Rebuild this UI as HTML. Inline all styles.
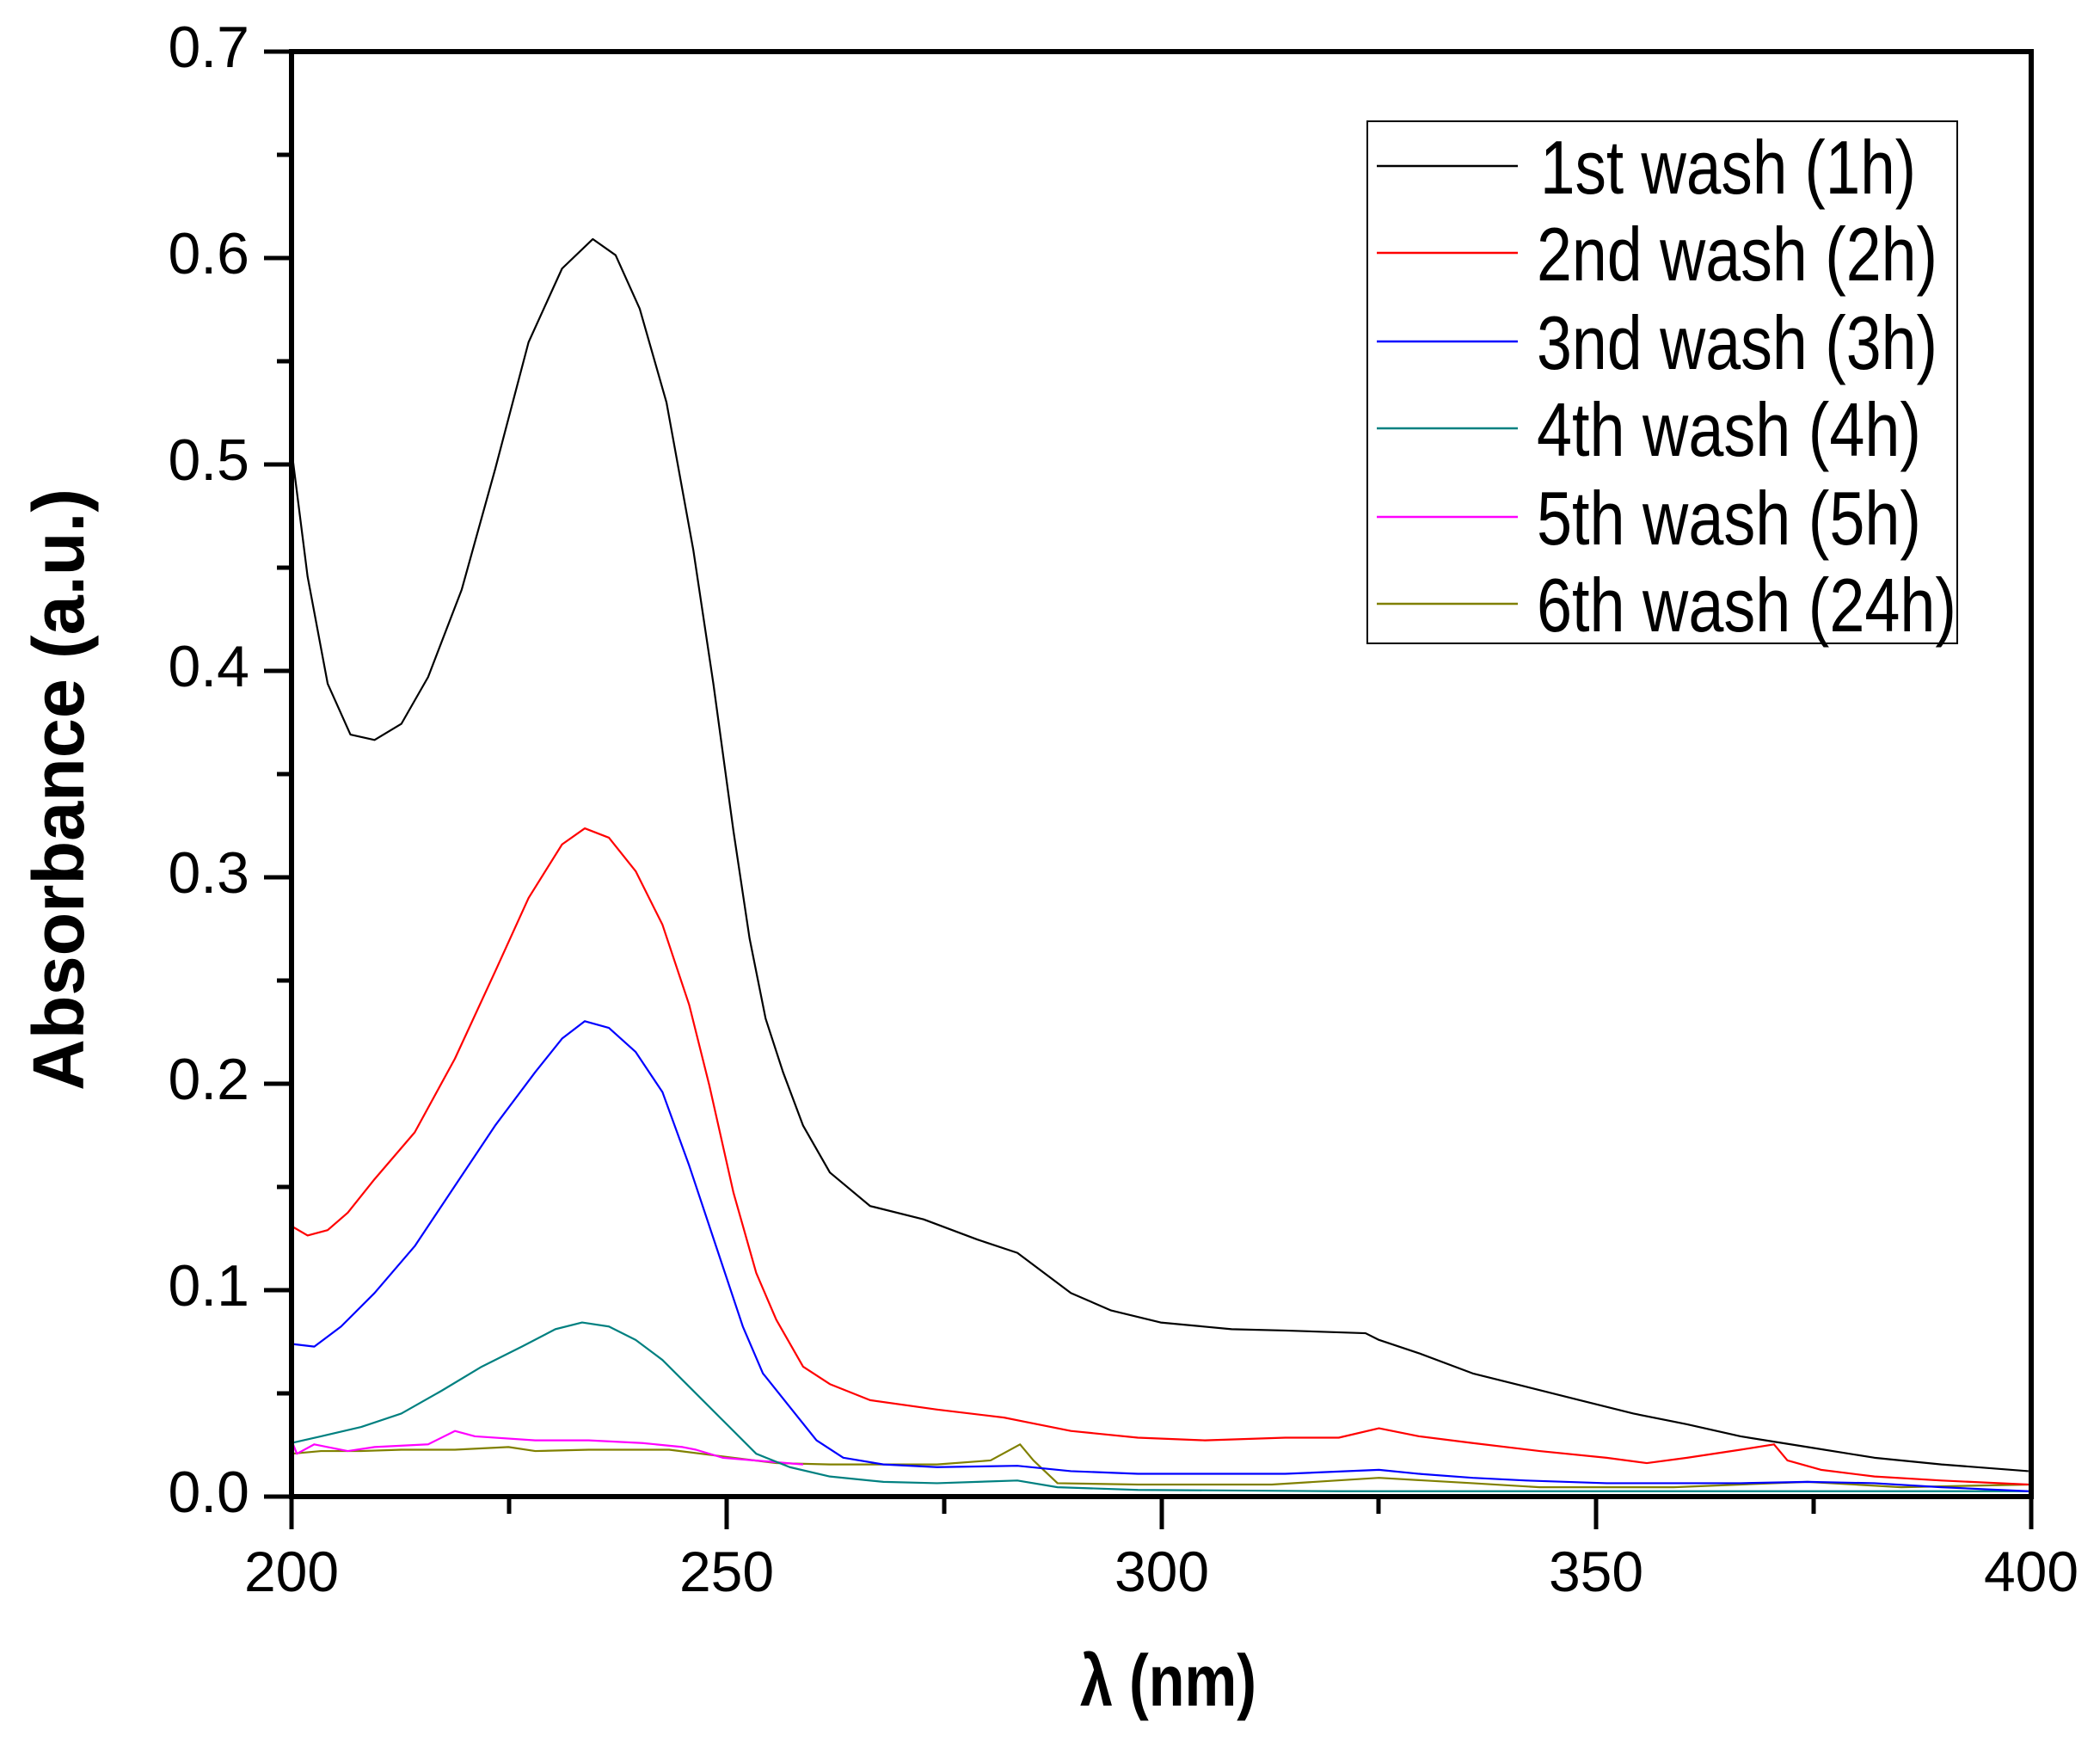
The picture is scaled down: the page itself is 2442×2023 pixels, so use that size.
<!DOCTYPE html>
<html><head><meta charset="utf-8"><style>
html,body{margin:0;padding:0;background:#fff;}
svg{display:block;}
text{font-family:"Liberation Sans",Arial,sans-serif;fill:#000;}
</style></head><body>
<svg width="2442" height="2023" viewBox="0 0 2442 2023" xmlns="http://www.w3.org/2000/svg">
<rect width="2442" height="2023" fill="#fff"/>
<g transform="translate(339,60) scale(1.5573,1.557) translate(-218,-38)" fill="none" stroke-width="2.2" vector-effect="non-scaling-stroke" stroke-linejoin="round">
<polyline vector-effect="non-scaling-stroke" stroke="#808000" points="218,1085 240,1083 270,1083 300,1082 340,1082 380,1080 400,1083 440,1082 500,1082 540,1087 580,1092 620,1093 700,1093 740,1090 762,1078 772,1090 790,1107 850,1108 950,1108 1030,1103 1100,1107 1150,1110 1250,1110 1350,1106 1420,1110 1515,1108"/>
<polyline vector-effect="non-scaling-stroke" stroke="#ff00ff" points="218,1075 222,1085 235,1078 245,1080 260,1083 280,1080 320,1078 340,1068 355,1072 400,1075 440,1075 480,1077 510,1080 520,1082 540,1088 600,1093"/>
<polyline vector-effect="non-scaling-stroke" stroke="#008080" points="218,1077 240,1072 270,1065 300,1055 330,1038 360,1020 390,1005 415,992 435,987 455,990 475,1000 495,1015 515,1035 540,1060 565,1085 590,1095 620,1102 660,1106 700,1107 760,1105 790,1110 850,1112 1000,1113 1515,1113"/>
<polyline vector-effect="non-scaling-stroke" stroke="#0000ff" points="218,1003 235,1005 255,990 280,965 310,930 340,885 370,840 400,800 420,775 437,762 455,767 475,785 495,815 515,870 535,930 555,990 570,1025 590,1050 610,1075 630,1088 660,1093 700,1095 760,1094 800,1098 850,1100 900,1100 960,1100 1030,1097 1060,1100 1100,1103 1140,1105 1200,1107 1300,1107 1350,1106 1400,1107 1450,1110 1515,1113"/>
<polyline vector-effect="non-scaling-stroke" stroke="#ff0000" points="218,915 230,922 245,918 260,905 280,880 310,845 340,790 370,725 395,670 420,630 437,618 455,625 475,650 495,690 515,750 530,810 548,890 565,950 580,985 600,1020 620,1033 650,1045 700,1052 750,1058 800,1068 850,1073 900,1075 960,1073 1000,1073 1030,1066 1060,1072 1100,1077 1150,1083 1200,1088 1230,1092 1260,1088 1300,1082 1325,1078 1335,1090 1360,1097 1400,1102 1450,1105 1515,1108"/>
<polyline vector-effect="non-scaling-stroke" stroke="#000000" points="218,335 230,430 245,510 262,548 280,552 300,540 320,505 345,440 370,350 395,255 420,200 443,178 460,190 478,230 498,300 518,410 533,510 548,620 560,700 572,760 585,800 600,840 620,875 650,900 690,910 730,925 760,935 780,950 800,965 830,978 867,987 920,992 960,993 1020,995 1030,1000 1060,1010 1100,1025 1140,1035 1180,1045 1220,1055 1260,1063 1300,1072 1350,1080 1400,1088 1450,1093 1515,1098"/>
</g>
<rect x="339" y="60" width="2023" height="1680" fill="none" stroke="#000" stroke-width="6"/>
<g stroke="#000" stroke-width="5">
<line x1="307" y1="60" x2="339" y2="60"/><line x1="307" y1="300" x2="339" y2="300"/><line x1="307" y1="540" x2="339" y2="540"/><line x1="307" y1="780" x2="339" y2="780"/><line x1="307" y1="1020" x2="339" y2="1020"/><line x1="307" y1="1260" x2="339" y2="1260"/><line x1="307" y1="1500" x2="339" y2="1500"/><line x1="307" y1="1740" x2="339" y2="1740"/>
<line x1="322" y1="180" x2="339" y2="180"/><line x1="322" y1="420" x2="339" y2="420"/><line x1="322" y1="660" x2="339" y2="660"/><line x1="322" y1="900" x2="339" y2="900"/><line x1="322" y1="1140" x2="339" y2="1140"/><line x1="322" y1="1380" x2="339" y2="1380"/><line x1="322" y1="1620" x2="339" y2="1620"/>
<line x1="339" y1="1740" x2="339" y2="1778"/><line x1="845" y1="1740" x2="845" y2="1778"/><line x1="1351" y1="1740" x2="1351" y2="1778"/><line x1="1856" y1="1740" x2="1856" y2="1778"/><line x1="2362" y1="1740" x2="2362" y2="1778"/>
<line x1="592" y1="1740" x2="592" y2="1760"/><line x1="1098" y1="1740" x2="1098" y2="1760"/><line x1="1603" y1="1740" x2="1603" y2="1760"/><line x1="2109" y1="1740" x2="2109" y2="1760"/>
</g>
<g font-size="68" text-anchor="end">
<text x="290" y="78">0.7</text><text x="290" y="318">0.6</text><text x="290" y="558">0.5</text><text x="290" y="798">0.4</text><text x="290" y="1038">0.3</text><text x="290" y="1278">0.2</text><text x="290" y="1518">0.1</text><text x="290" y="1758">0.0</text>
</g>
<g font-size="66" text-anchor="middle">
<text x="339" y="1850">200</text><text x="845" y="1850">250</text><text x="1351" y="1850">300</text><text x="1856" y="1850">350</text><text x="2362" y="1850">400</text>
</g>
<text x="1256" y="1983" font-size="84" font-weight="bold" textLength="205" lengthAdjust="spacingAndGlyphs">λ (nm)</text>
<text transform="translate(97,1268) rotate(-90)" font-size="84" font-weight="bold" textLength="700" lengthAdjust="spacingAndGlyphs">Absorbance (a.u.)</text>
<rect x="1590" y="141" width="686" height="607" fill="#fff" stroke="#000" stroke-width="2"/>
<g stroke-width="2.5">
<line x1="1601" y1="193" x2="1765" y2="193" stroke="#000"/>
<line x1="1601" y1="294" x2="1765" y2="294" stroke="#f00"/>
<line x1="1601" y1="397" x2="1765" y2="397" stroke="#00f"/>
<line x1="1601" y1="498" x2="1765" y2="498" stroke="#008080"/>
<line x1="1601" y1="601" x2="1765" y2="601" stroke="#f0f"/>
<line x1="1601" y1="702" x2="1765" y2="702" stroke="#808000"/>
</g>
<g font-size="88">
<text x="1791" y="225" textLength="437" lengthAdjust="spacingAndGlyphs">1st wash (1h)</text>
<text x="1787" y="326" textLength="466" lengthAdjust="spacingAndGlyphs">2nd wash (2h)</text>
<text x="1787" y="429" textLength="466" lengthAdjust="spacingAndGlyphs">3nd wash (3h)</text>
<text x="1787" y="530" textLength="447" lengthAdjust="spacingAndGlyphs">4th wash (4h)</text>
<text x="1787" y="633" textLength="447" lengthAdjust="spacingAndGlyphs">5th wash (5h)</text>
<text x="1787" y="734" textLength="488" lengthAdjust="spacingAndGlyphs">6th wash (24h)</text>
</g>
</svg>
</body></html>
